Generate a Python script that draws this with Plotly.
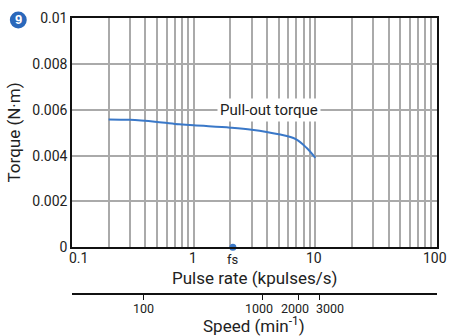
import math
import plotly.graph_objects as go

# Data
pulse_rate = [0.2, 0.3, 0.5, 0.76, 1.0, 2.0, 3.0, 5.0, 6.9, 8.5, 10.0]
torque = [0.00558, 0.00556, 0.00547, 0.00537, 0.00532, 0.00522, 0.00513, 0.00493, 0.00472, 0.00433, 0.0039]
fs_rate = [2.1]
fs_torque = [0.0]
y_ticks = [0, 0.002, 0.004, 0.006, 0.008, 0.01]
y_ticktext = ["0", "0.002", "0.004", "0.006", "0.008", "0.01"]
x_ticks = [0.1, 1, 10, 100]
x_ticktext = ["0.1", "1", "10", "100"]
speed_ticks = [100, 1000, 2000, 3000]
speed_ticktext = ["100", "1000", "2000", "3000"]

FONT = "Liberation Sans Narrow, Roboto, sans-serif"
BLUE = "#3a78c8"
GRID = "#aaaaaa"

fig = go.Figure()
fig.add_trace(go.Scatter(x=pulse_rate, y=torque, mode="lines",
                         line=dict(color=BLUE, width=2), line_shape="spline",
                         hoverinfo="skip", showlegend=False))
fig.add_trace(go.Scatter(x=fs_rate, y=fs_torque, mode="markers",
                         marker=dict(color=BLUE, size=7), cliponaxis=False,
                         showlegend=False))
# invisible trace for speed axis
fig.add_trace(go.Scatter(x=[1000], y=[0.005], xaxis="x2", yaxis="y", mode="markers",
                         marker=dict(opacity=0), showlegend=False, hoverinfo="skip"))

fig.update_layout(
    width=449, height=336, autosize=False,
    margin=dict(l=72, r=10, t=16, b=42),
    paper_bgcolor="white", plot_bgcolor="white",
    font=dict(family=FONT, size=14, color="#222"),
    xaxis=dict(type="log", range=[-1, 2], anchor="y",
               tickvals=x_ticks, showticklabels=False, ticks="",
               showgrid=True, gridcolor=GRID, gridwidth=1.5,
               minor=dict(showgrid=True, gridcolor=GRID, gridwidth=1.5,
                          tickvals=[a * b for a in [0.1, 1, 10] for b in range(2, 10)]),
               showline=True, linecolor="#111", linewidth=1.5, mirror=True,
               zeroline=False),
    yaxis=dict(range=[0, 0.01], domain=[0.169, 1],
               tickvals=y_ticks, ticktext=y_ticktext, ticks="",
               showgrid=True, gridcolor=GRID, gridwidth=1.5,
               showline=True, linecolor="#111", linewidth=1.5, mirror=True,
               zeroline=False, tickfont=dict(size=14)),
    xaxis2=dict(type="log", range=[1.40, 4.467], overlaying="x",
                anchor="free", position=0, side="bottom",
                tickvals=speed_ticks, showticklabels=False,
                ticks="outside", ticklen=5, tickcolor="#111", tickwidth=1,
                showgrid=False, showline=True, linecolor="#111", linewidth=1.5,
                zeroline=False),
)

W, H = 367, 278
def px(x):
    return (x - 72) / W
def py(y):
    return 1 - (y - 16) / H

# pulse-rate tick labels
x_shifts = [6, -1, -1, -2]
for v, t, s in zip(x_ticks, x_ticktext, x_shifts):
    fig.add_annotation(text=t, x=math.log10(v), xref="x", y=py(258), yref="paper", xshift=s,
                       showarrow=False, font=dict(size=14), xanchor="center", yanchor="middle")
# speed tick labels
s_shifts = [0, -3, -3, 11]
for v, t, s in zip(speed_ticks, speed_ticktext, s_shifts):
    fig.add_annotation(text=t, x=math.log10(v), xref="x2", y=py(309), yref="paper", xshift=s,
                       showarrow=False, font=dict(size=12.5), xanchor="center", yanchor="middle")

fig.add_annotation(text="Pull-out torque", x=math.log10(4.13), y=0.006, xref="x", yref="y",
                   showarrow=False, bgcolor="white", font=dict(size=15), borderpad=2)
fig.add_annotation(text="fs", x=math.log10(fs_rate[0]), y=0, xref="x", yref="y", yshift=-12,
                   showarrow=False, font=dict(size=13), yanchor="middle")
fig.add_annotation(text="Pulse rate (kpulses/s)", x=px(255), y=py(278), xref="paper", yref="paper",
                   showarrow=False, font=dict(size=17), xanchor="center", yanchor="middle")
fig.add_annotation(text="Speed (min<sup>-1</sup>)", x=px(255), y=py(325), xref="paper", yref="paper",
                   showarrow=False, font=dict(size=17), xanchor="center", yanchor="middle")
fig.add_annotation(text="Torque (N·m)", x=px(14), y=py(131), xref="paper", yref="paper",
                   textangle=-90, showarrow=False, font=dict(size=17),
                   xanchor="center", yanchor="middle")

# badge
fig.add_shape(type="circle", xref="paper", yref="paper",
              x0=px(9.5), x1=px(26.5), y0=py(26.5), y1=py(9.5),
              fillcolor="#2a68bb", line=dict(width=0))
fig.add_annotation(text="<b>9</b>", x=px(18), y=py(18),
                   xref="paper", yref="paper", showarrow=False,
                   font=dict(size=13, color="white", family="Liberation Sans, Arial"),
                   xanchor="center", yanchor="middle")

fig.write_html("out.html", config={"displayModeBar": False, "responsive": False},
               post_script="document.body.style.margin='0px';document.body.style.overflow='hidden';")
